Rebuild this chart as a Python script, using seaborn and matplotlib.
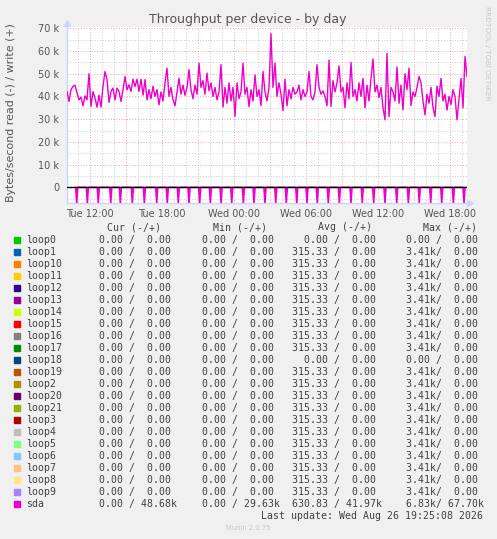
import matplotlib
matplotlib.use("Agg")
import matplotlib.pyplot as plt
import matplotlib.dates as mdates
from matplotlib.patches import Rectangle
from matplotlib.ticker import MultipleLocator, FuncFormatter
import numpy as np
import pandas as pd
import seaborn as sns

W, H = 497, 539

# sda write throughput (bytes/s), one reading per 10 minutes from Tue 10:05
sda_write = [
    42200, 37800, 43000, 44400, 45000, 41500, 38500, 39700, 35900, 40300,
    38500, 50000, 35600, 42200, 39300, 35300, 40600, 35300, 44400, 51000,
    47400, 37400, 42200, 43700, 38500, 43700, 42200, 37800, 42900, 48800,
    42900, 45100, 42200, 47600, 44400, 47600, 42200, 47600, 40600, 47400,
    38500,
    43000, 39000, 44500, 40000, 43000, 36300, 42000, 38000, 46000, 52500,
    40000, 44000, 38500, 35900, 42000, 48000, 41000, 45000, 40500, 44000,
    51800, 43000, 39000, 45000, 41000, 54700, 44000, 47000, 41000, 50300,
    42500, 46000, 40000, 44000, 38500, 42000, 54000, 35300, 44000, 37000,
    46000,
    38000, 44000, 31200, 46000, 39000, 42000, 54700, 41000, 44000, 35500,
    43000, 38000, 49500, 40000, 43000, 36000, 51000, 42000, 38000, 44000,
    67700, 44000, 54700, 40000, 46000, 41000, 33800, 47600, 35900, 43000,
    39000, 44000, 41000, 42000, 45000, 38500, 43000, 40000, 42000, 51000,
    40000, 38500, 42000, 54000, 44000, 41000, 42500, 40000, 35900, 56000,
    35600, 47000, 42000, 46000, 53500, 42000, 44000, 35000, 46000, 39000,
    55000, 40000, 43000, 38000, 46000, 40000, 48000, 35000, 45000, 38000,
    48000, 56500, 42000, 45000, 39500, 44000, 35000, 29700, 59000, 31200,
    44000,
    42000, 38000, 53000, 37000, 45000, 34100, 50000, 43000, 52500, 36000,
    42000, 40000, 44000, 48800, 46000, 38000, 31900, 41000, 37000, 44000,
    35000, 31200, 44500, 40000, 48000, 38000, 41000, 34000, 40000, 36500,
    43000, 40000, 29700, 39000, 48000, 35000, 57600, 48680,
]

# sda read bursts: hours after Tue 00:00 and peak value
read_spike_hours = [
    10.89, 11.78, 12.69, 13.73, 14.53, 15.53, 16.53, 17.56, 18.44, 19.36,
    20.25, 21.14, 22.03, 22.92, 23.81, 24.78, 25.67, 26.58, 27.48, 28.36,
    29.23, 30.08, 30.94, 31.86, 32.78, 33.75, 34.69, 35.64, 36.58, 37.56,
    38.53, 39.44, 40.39, 41.31, 42.28, 43.17,
]
read_peak = 6830

devices = ["loop0", "loop1", "loop10", "loop11", "loop12", "loop13", "loop14",
           "loop15", "loop16", "loop17", "loop18", "loop19", "loop2", "loop20",
           "loop21", "loop3", "loop4", "loop5", "loop6", "loop7", "loop8",
           "loop9", "sda"]
colors = ["#00CC00", "#0066B3", "#FF8000", "#FFCC00", "#330099", "#990099",
          "#CCFF00", "#FF0000", "#808080", "#008F00", "#00487D", "#B35A00",
          "#B38F00", "#6B006B", "#8FB300", "#B30000", "#BEBEBE", "#80FF80",
          "#80C9FF", "#FFC080", "#FFE680", "#AA80FF", "#EE00CC"]
cur_col = ["  0.00 /  0.00 "] * 22 + ["  0.00 / 48.68k"]
min_col = ["  0.00 /  0.00 "] * 22 + ["  0.00 / 29.63k"]
avg_col = ["  0.00 /  0.00 "] + ["315.33 /  0.00 "] * 21 + ["630.83 / 41.97k"]
max_col = ["  0.00 /  0.00 "] + ["  3.41k/  0.00 "] * 21 + ["  6.83k/ 67.70k"]
# loop18 has no reads either
avg_col[10] = "  0.00 /  0.00 "
max_col[10] = "  0.00 /  0.00 "

sns.set_style("white")
plt.rcParams["font.family"] = ["DejaVu Sans"]

fig = plt.figure(figsize=(W / 100, H / 100), dpi=100, facecolor="#F0F0F0")

def fx(px):
    return px / W

def fy(py):
    return 1 - py / H

ax = fig.add_axes([fx(67), fy(203.2), 400 / W, 176 / H])
ax.set_facecolor("white")

start = pd.Timestamp("2026-08-25 10:05")
times = pd.date_range(start, periods=len(sda_write), freq="10min")
df_w = pd.DataFrame({"time": times, "value": sda_write})

base = pd.Timestamp("2026-08-25")
rt, rv = [], []
for h in read_spike_hours:
    t = base + pd.to_timedelta(h, unit="h")
    rt += [t - pd.Timedelta("5min"), t, t + pd.Timedelta("5min")]
    rv += [0, -read_peak, 0]
df_r = pd.DataFrame({"time": rt, "value": rv})

sns.lineplot(data=df_r, x="time", y="value", ax=ax, color="#EE00CC",
             linewidth=1.2, sort=False, estimator=None, zorder=3)
sns.lineplot(data=df_w, x="time", y="value", ax=ax, color="#EE00CC",
             linewidth=1.0, estimator=None, zorder=3)
ax.axhline(0, color="black", linewidth=1.0, zorder=4)

ax.set_xlim(start, pd.Timestamp("2026-08-26 19:25"))
ax.set_ylim(-7000, 70500)

# grid
ax.yaxis.set_major_locator(MultipleLocator(10000))
ax.yaxis.set_minor_locator(MultipleLocator(5000))
ax.xaxis.set_major_locator(mdates.HourLocator(byhour=range(0, 24, 3)))
ax.xaxis.set_minor_locator(mdates.HourLocator())
ax.grid(which="minor", color="#C4C4C4", linestyle=(0, (1, 2)), linewidth=0.65, zorder=1)
ax.grid(which="major", color="#F09494", linestyle=(0, (1, 2)), linewidth=0.65, zorder=1)
ax.set_axisbelow(True)

def xfmt(v, pos):
    d = mdates.num2date(v)
    if d.hour % 6 == 0:
        return d.strftime("%a %H:%M")
    return ""

ax.xaxis.set_major_formatter(FuncFormatter(xfmt))
ax.yaxis.set_major_formatter(FuncFormatter(lambda v, p: "0" if v == 0 else f"{int(v / 1000)} k"))
ax.set_yticks(range(0, 70001, 10000))
ax.tick_params(axis="x", labelsize=7.0, colors="#555555", length=0, pad=4)
ax.tick_params(axis="y", labelsize=7.0, colors="#555555", length=0, pad=5.5)
ax.tick_params(which="minor", length=0)
ax.set_xlabel("")
ax.set_ylabel("")

for s in ["top", "right"]:
    ax.spines[s].set_visible(False)
for s in ["left", "bottom"]:
    ax.spines[s].set_color("#CCD4FF")
    ax.spines[s].set_linewidth(1.0)
ax.plot([0], [1.025], marker="^", color="#CCD4FF", markersize=4,
        transform=ax.transAxes, clip_on=False)
ax.plot([1.008], [0], marker=">", color="#CCD4FF", markersize=4,
        transform=ax.transAxes, clip_on=False)

fig.text(fx(248), fy(19), "Throughput per device - by day", ha="center",
         va="center", fontsize=9, color="#555555")
fig.text(fx(11), fy(113), "Bytes/second read (-) / write (+)", ha="center",
         va="center", rotation=90, fontsize=7.9, color="#555555")
fig.text(fx(487), fy(53), "RRDTOOL / TOBI OETIKER", ha="center", va="center",
         rotation=270, fontsize=5.3, color="#C8C8C8")

mono = "DejaVu Sans Mono"
fs = 7.1
tc = "#404040"
headers = [("Cur (-/+)", 107), ("Min (-/+)", 213), ("Avg (-/+)", 318), ("Max (-/+)", 423)]
for txt, x in headers:
    fig.text(fx(x), fy(227.5), txt, family=mono, fontsize=fs, color=tc, va="center")

for i, name in enumerate(devices):
    y = 240 + 12 * i
    fig.add_artist(Rectangle((fx(14), fy(y + 3)), 6 / W, 6 / H,
                             transform=fig.transFigure, color=colors[i]))
    fig.text(fx(26), fy(y), name, family=mono, fontsize=fs, color=tc, va="center")
    fig.text(fx(87.2), fy(y), cur_col[i], family=mono, fontsize=fs, color=tc, va="center")
    fig.text(fx(189.9), fy(y), min_col[i], family=mono, fontsize=fs, color=tc, va="center")
    fig.text(fx(292), fy(y), avg_col[i], family=mono, fontsize=fs, color=tc, va="center")
    fig.text(fx(394.2), fy(y), max_col[i], family=mono, fontsize=fs, color=tc, va="center")

fig.text(fx(483), fy(515.7), "Last update: Wed Aug 26 19:25:08 2026", ha="right",
         family=mono, fontsize=fs, color=tc, va="center")
fig.text(fx(248), fy(527.7), "Munin 2.0.75", ha="center", va="center",
         fontsize=4.9, color="#C8C8C8")

fig.savefig("out.png", dpi=100, facecolor=fig.get_facecolor())
